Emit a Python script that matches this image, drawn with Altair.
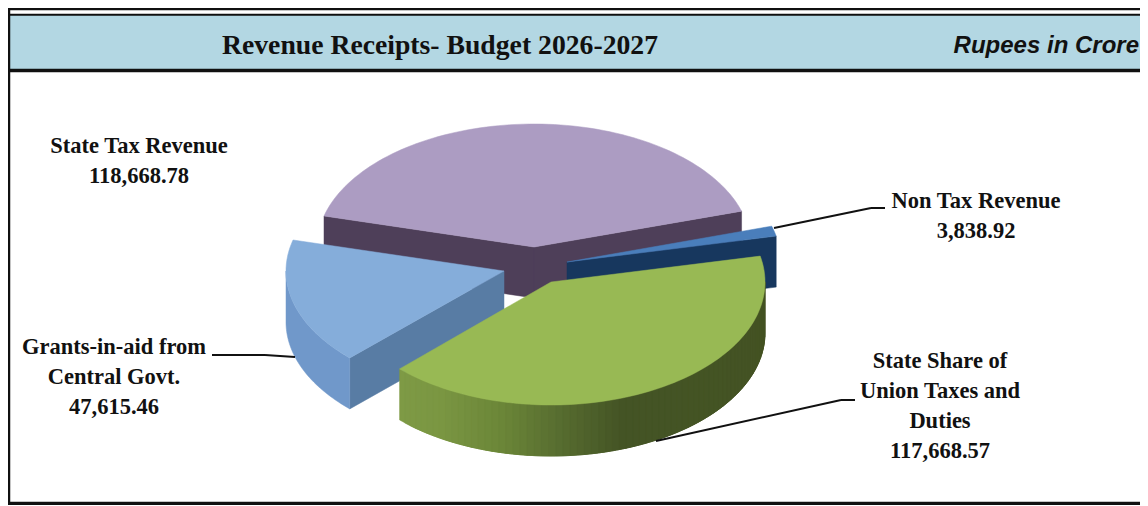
import math
import altair as alt

# ---- values
categories = ["State Tax Revenue", "Non Tax Revenue", "State Share of Union Taxes and Duties", "Grants-in-aid from Central Govt."]
values = [118668.78, 3838.92, 117668.57, 47615.46]

# ---- pie styling (page pixels; the page margin is taken off below)
M = 8
RY, DEPTH = 123, 51
START = 165.4
radii = [217, 214, 214, 218]
centres = [(534, 247), (567, 262), (551, 282), (504, 271)]
tops = ["#AC9CC2", "#4A7EBB", "#98B954", "#85ADDA"]
faces = ["#4E3F59", "#17375E", None, "#587CA4"]
wall_stops = [None, None,
              [(0.0, "#7E9A45"), (0.1, "#7A9642"), (0.23, "#6B8638"), (0.35, "#566B2F"), (0.47, "#445425"), (1.0, "#445323")],
              [(0.0, "#7098CA"), (1.0, "#7098CA")]]
face_edges = [(True, True), (False, True), (False, False), (True, False)]
draw_order = [0, 1, 3, 2]


def hexmix(stops, t):
    for (a, ca), (b, cb) in zip(stops, stops[1:]):
        if t <= b:
            f = (t - a) / (b - a)
            rgb = [round(int(ca[i:i + 2], 16) * (1 - f) + int(cb[i:i + 2], 16) * f) for i in (1, 3, 5)]
            return "#%02x%02x%02x" % tuple(rgb)
    return stops[-1][1]


def pt(i, th, dz=0):
    r = math.radians(th)
    c = centres[i]
    return [c[0] - M + radii[i] * math.cos(r), c[1] - M - RY * math.sin(r) + dz]


def feat(ring, fill):
    ring = list(ring) + [ring[0]]
    return {"type": "Feature", "geometry": {"type": "Polygon", "coordinates": [ring]},
            "properties": {"fill": fill}}


def spread(a, b, n):
    return [a + (b - a) * k / n for k in range(n + 1)]


total = sum(values)
bounds = []
theta = START
for v in values:
    bounds.append((theta, theta - 360 * v / total))
    theta -= 360 * v / total

features = []
for i in draw_order:
    t0, t1 = bounds[i]
    c = centres[i]
    apex = [c[0] - M, c[1] - M]
    apex_low = [apex[0], apex[1] + DEPTH]
    if face_edges[i][0]:
        features.append(feat([apex, pt(i, t0), pt(i, t0, DEPTH), apex_low], faces[i]))
    if face_edges[i][1]:
        features.append(feat([apex, pt(i, t1), pt(i, t1, DEPTH), apex_low], faces[i]))
    if i == 3:
        th = spread(t0, -180, 40)
        ring = [pt(i, x) for x in th] + [pt(i, x, DEPTH) for x in reversed(th)]
        features.append(feat(ring, wall_stops[i][0][1]))
    elif wall_stops[i]:
        n = 70
        th = spread(t1, 0, n)
        for j in range(n):
            colour = hexmix(wall_stops[i], j / n)
            part = th[j:j + 4]
            ring = [pt(i, x) for x in part] + [pt(i, x, DEPTH) for x in reversed(part)]
            features.append(feat(ring, colour))
    features.append(feat([apex] + [pt(i, x) for x in spread(t0, t1, 90)], tops[i]))

# ---- frame
W, H = 1132, 497
frame = [
    feat([[0, 0], [W, 0], [W, 2], [0, 2]], "#111111"),
    feat([[0, 6], [W, 6], [W, 8], [0, 8]], "#111111"),
    feat([[0, 8], [W, 8], [W, 61], [0, 61]], "#B3D7E3"),
    feat([[0, 61], [W, 61], [W, 64], [0, 64]], "#111111"),
    feat([[0, 0], [2, 0], [2, H], [0, H]], "#111111"),
    feat([[0, 494], [W, 494], [W, H], [0, H]], "#111111"),
]

# ---- leader lines
leaders = [
    {"x": 766, "y": 220, "x2": 863, "y2": 200},
    {"x": 863, "y": 200, "x2": 877, "y2": 200},
    {"x": 204, "y": 347, "x2": 257, "y2": 347},
    {"x": 257, "y": 347, "x2": 287, "y2": 349},
    {"x": 648, "y": 433, "x2": 833, "y2": 392},
    {"x": 833, "y": 392, "x2": 847, "y2": 392},
]

# ---- text
labels = [
    {"t": "State Tax Revenue", "x": 131, "y": 138},
    {"t": "118,668.78", "x": 131, "y": 168},
    {"t": "Non Tax Revenue", "x": 968, "y": 193},
    {"t": "3,838.92", "x": 968, "y": 223},
    {"t": "Grants-in-aid from", "x": 106, "y": 339},
    {"t": "Central Govt.", "x": 106, "y": 369},
    {"t": "47,615.46", "x": 106, "y": 399},
    {"t": "State Share of", "x": 932, "y": 353},
    {"t": "Union Taxes and", "x": 932, "y": 383},
    {"t": "Duties", "x": 932, "y": 413},
    {"t": "117,668.57", "x": 932, "y": 443},
]
title = [{"t": "Revenue Receipts- Budget 2026-2027", "x": 432, "y": 38}]
unit = [{"t": "Rupees in Crore", "x": 1131, "y": 38}]

X = alt.X("x:Q", scale=None, axis=None)
Y = alt.Y("y:Q", scale=None, axis=None)


def shapes(rows):
    return (alt.Chart(alt.Data(values=rows))
            .mark_geoshape(strokeWidth=0.5)
            .encode(fill=alt.Fill("properties.fill:N", scale=None, legend=None),
                    stroke=alt.Stroke("properties.fill:N", scale=None, legend=None))
            .project(type="identity", scale=1, translate=[0, 0]))


def texts(rows, **kw):
    return (alt.Chart(alt.Data(values=rows))
            .mark_text(baseline="middle", color="#111111", fontWeight="bold", **kw)
            .encode(x=X, y=Y, text="t:N"))


rules = (alt.Chart(alt.Data(values=leaders))
         .mark_rule(color="#111111", strokeWidth=2)
         .encode(x=X, y=Y, x2="x2:Q", y2="y2:Q"))

chart = alt.layer(
    shapes(frame),
    shapes(features),
    rules,
    texts(labels, font="Liberation Serif", fontSize=22.5, align="center"),
    texts(title, font="Liberation Serif", fontSize=27.7, align="center"),
    texts(unit, font="Liberation Sans", fontSize=24, fontStyle="italic", align="right"),
).properties(width=W, height=H, padding=0, autosize=alt.AutoSizeParams(type="none"),
             background="white").configure_view(stroke=None)

chart.save("out.html", embed_options={"renderer": "svg", "actions": False})
